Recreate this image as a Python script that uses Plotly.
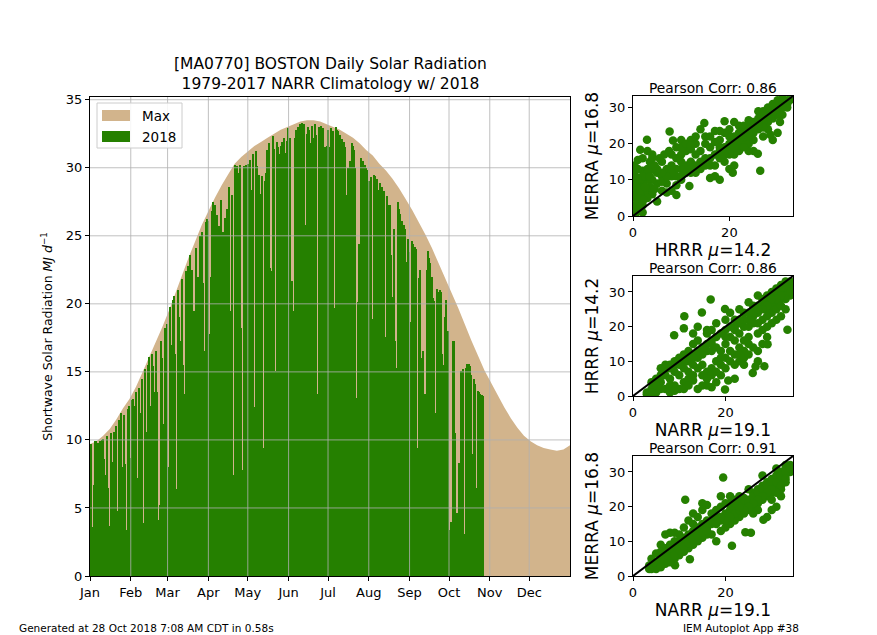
import plotly.graph_objects as go

# ---------------- data ----------------
MONTHS = ['Jan', 'Feb', 'Mar', 'Apr', 'May', 'Jun', 'Jul', 'Aug', 'Sep', 'Oct', 'Nov', 'Dec']
MONTH_START_DAYS = [1, 32, 60, 91, 121, 152, 182, 213, 244, 274, 305, 335]
Y_TICKS = [0, 5, 10, 15, 20, 25, 30, 35]
LEGEND_LABELS = ['Max', '2018']

# 1979-2017 NARR climatology max (every 5 days of year)
MAX_DAYS = list(range(1, 367, 5))
MAX_CLIM = [9.7, 9.9, 10.3, 10.8, 11.5, 12.3, 13.0, 13.9, 15.0, 16.1,
            17.2, 18.3, 19.5, 20.8, 22.1, 23.4, 24.6, 25.8, 26.8, 27.8,
            28.7, 29.5, 30.3, 30.8, 31.2, 31.6, 31.9, 32.2, 32.5, 32.8,
            33.0, 33.2, 33.4, 33.5, 33.5, 33.4, 33.2, 33.0, 32.8, 32.5,
            32.2, 31.8, 31.3, 30.9, 30.3, 29.8, 29.2, 28.5, 27.7, 26.9,
            26.0, 25.1, 24.1, 23.0, 21.9, 20.8, 19.7, 18.5, 17.3, 16.2,
            15.1, 14.2, 13.3, 12.4, 11.6, 10.9, 10.3, 9.9, 9.6, 9.4,
            9.3, 9.2, 9.3, 9.6]

# 2018 daily values (MJ/d), by month
JAN = [9.6, 9.7, 3.6, 6.7, 9.9, 9.9, 9.8, 7.2, 9.9, 10.0,
       10.1, 8.6, 7.4, 10.3, 6.5, 3.7, 10.5, 8.4, 10.6, 8.8,
       11.0, 4.8, 11.5, 11.3, 12.0, 8.0, 11.8, 8.2, 3.4, 12.3, 12.5]
FEB = [8.7, 12.9, 13.0, 12.5, 13.5, 7.2, 13.8, 12.0, 10.6, 14.5,
       3.9, 15.2, 10.6, 15.5, 16.1, 12.5, 16.3, 15.4, 13.5, 16.5,
       13.5, 4.1, 5.2, 17.3, 16.0, 11.2, 18.2, 17.5]
MAR = [18.5, 8.0, 19.8, 17.0, 20.3, 20.6, 16.3, 6.4, 21.0, 19.0,
       17.3, 21.8, 15.5, 13.4, 22.4, 20.5, 22.8, 23.6, 12.0, 22.5,
       19.5, 10.0, 24.1, 22.0, 14.1, 25.0, 25.3, 21.5, 16.5, 26.0, 26.2]
APR = [26.1, 17.8, 22.0, 26.8, 27.5, 27.3, 15.6, 26.5, 25.7, 7.2,
       27.6, 25.3, 11.5, 26.3, 27.0, 8.9, 28.6, 19.5, 28.0, 7.4,
       30.2, 29.3, 30.1, 29.6, 30.2, 18.2, 7.8, 30.1, 18.0, 30.2]
MAY = [30.3, 29.2, 30.6, 28.4, 31.0, 12.4, 31.2, 30.1, 29.2, 29.5,
       28.1, 29.4, 9.4, 29.0, 29.6, 31.3, 31.8, 22.6, 22.4, 32.3,
       31.4, 15.1, 31.9, 31.5, 31.0, 31.6, 31.9, 11.2, 32.2, 31.1, 32.0]
JUN = [32.9, 32.2, 7.8, 21.7, 19.5, 32.2, 32.8, 33.0, 32.7, 33.2,
       33.3, 32.9, 33.2, 25.8, 32.5, 33.0, 32.8, 31.8, 33.1, 32.2,
       33.2, 32.4, 13.4, 33.0, 17.3, 33.1, 32.9, 14.6, 31.5, 31.6]
JUL = [32.8, 31.5, 32.9, 31.0, 32.7, 19.7,
       33.0, 32.8, 32.7, 32.4, 17.3, 32.1, 31.9, 31.5, 28.0, 30.0,
       20.7, 30.5, 31.8, 31.6, 31.3, 30.0, 13.1, 20.1, 24.4, 30.7,
       30.4, 30.5, 30.2, 30.0, 29.8]
AUG = [29.0, 22.2, 29.3, 18.9, 29.5, 29.4, 29.2, 28.4, 20.2, 28.9,
       28.6, 17.8, 28.3, 17.6, 27.9, 27.3, 27.3, 23.6, 20.5, 25.5,
       17.3, 15.3, 27.5, 27.0, 26.6, 26.1, 25.8, 25.8, 25.5, 23.1, 24.8]
SEP = [23.8, 18.7, 24.6, 24.4, 24.2, 24.0, 9.4, 21.9, 22.5, 16.0,
       16.5, 8.5, 13.4, 22.5, 23.9, 23.4, 23.0, 22.0, 20.4, 20.2,
       12.0, 21.1, 20.9, 21.0, 20.9, 16.3, 15.5, 19.0, 20.3, 18.0]
OCT = [3.0, 3.4, 4.0, 17.3, 17.3, 10.5, 4.6, 4.4, 8.3, 15.1,
       15.1, 15.2, 3.1, 15.3, 15.6, 15.6, 15.4, 14.8, 9.0, 14.5,
       14.1, 6.5, 13.6, 13.5, 13.4, 13.3, 13.2]
OBS_2018 = JAN + FEB + MAR + APR + MAY + JUN + JUL + AUG + SEP + OCT
OBS_DAYS = list(range(1, len(OBS_2018) + 1))

# scatter comparisons (x, y)
HRRR_MERRA = [(28, 29), (30, 31), (31, 32), (29, 30), (27, 28), (26, 29), (24, 25), (25, 26), (22, 25), (19, 26.2),
              (21, 26), (23, 24), (27, 22), (29, 21), (30, 23), (25.9, 17.2), (26.4, 12.5), (25, 18), (24, 18), (21, 17),
              (22, 20), (20, 22), (18, 21), (17, 23.5), (14.8, 25.7), (14, 24), (15, 20), (12, 21), (10, 21), (8.3, 20.9),
              (7.6, 23.4), (2.9, 21.1), (1.5, 18.3), (4, 17), (4, 16), (3.5, 15), (5, 12), (2, 12.5), (1, 13), (0.5, 11),
              (0.3, 9), (1, 7), (0.5, 5), (0.3, 3), (0.5, 2), (1, 4), (2, 6), (3, 7), (4, 6), (3, 5),
              (2, 3), (1, 1.5), (5, 4), (6, 7), (7, 9), (8, 11), (8, 7), (9, 5.8), (10, 10), (11, 14),
              (12, 15), (11.7, 8.3), (13, 12), (14, 15), (15, 16), (16, 10.5), (17, 11), (17, 14), (18, 10), (19, 15),
              (19, 19), (18, 18), (20, 13), (21, 14), (20.7, 12), (22, 18), (23, 21), (24, 20), (25, 23), (26, 24),
              (28, 24), (29, 27), (30, 28), (31, 30), (32, 31), (32.5, 32), (28, 26), (27, 26), (25, 21), (23, 19),
              (20, 18), (18, 16), (16, 16), (14, 13), (12, 12), (10, 13), (9, 11), (8, 14), (7, 13), (6, 11),
              (6, 15), (8, 17), (10, 17), (11, 18), (13, 17), (15, 22), (9, 19), (5, 9), (4, 10), (3, 10),
              (2, 9), (2, 1), (0.5, 0.5), (1.5, 2.5), (0.2, 6), (0.8, 8), (1.5, 10), (2.5, 11), (3, 13), (0.4, 12.5),
              (1.2, 5.5), (2.2, 4.5), (3.5, 8), (4.5, 7.5), (6, 9.5), (7, 6.5), (9, 8.5), (10, 15), (12, 18.5), (13, 20),
              (16, 19), (17, 20.5), (19, 23), (21, 21), (23, 22.5), (24, 22), (26, 26), (27, 24.5), (28, 27.5), (29, 28.5),
              (30, 29.5), (31, 28), (32, 30), (30.5, 26), (28.5, 22.5), (24, 26.5), (22, 22.5),
              (20, 20), (21, 22), (22, 23), (23, 25), (24, 24), (25, 25), (26, 27), (27, 27), (28, 28), (29, 29),
              (30, 30), (31, 31), (32, 32), (26, 25), (27, 29), (28, 30), (29, 31), (30, 32), (31, 32.5), (25, 24),
              (24, 23), (23, 23), (22, 21), (21, 19), (20, 17), (19, 17), (18, 19), (17, 17), (16, 14), (15, 14),
              (14, 18), (13, 14), (12, 13), (11, 12), (10, 11), (9, 13), (8, 12), (7, 11), (6, 12), (5, 13),
              (4, 13), (3, 12), (2, 11), (1, 10), (0.5, 8), (1.5, 7), (2.5, 8), (3.5, 11), (4.5, 14), (5.5, 16),
              (6.5, 17), (7.5, 18), (9, 16), (10, 19), (11, 20), (12, 19.5), (13, 22), (16, 22), (18, 23.5), (20, 24),
              (0.3, 14), (1, 15.5), (2, 16), (3, 18)]
NARR_HRRR = [(28.4, 8.6), (25.9, 6.6), (26.5, 8.5), (27, 13), (26, 14), (28, 15), (29.1, 14.9), (33.4, 19.1), (25, 17), (23, 10),
             (22, 12), (20, 11), (19.9, 1.9), (20.6, 4.5), (17, 2.5), (14, 2), (13, 4.5), (10, 2), (8, 1), (7, 2),
             (5, 1), (3, 0.5), (4, 2), (6, 4), (7, 6), (8, 8), (9, 9), (10, 6), (11, 8), (12, 10),
             (13, 12), (14, 11), (15, 9), (16, 13), (17, 8), (18, 10), (19, 13), (20, 15), (17, 15), (16, 18),
             (14.9, 24.1), (16.8, 27.8), (11.1, 23), (8.9, 17.5), (11, 19.5), (13, 18), (14, 20), (16, 19), (18, 21), (19.9, 25.1),
             (21, 24), (22, 22), (23, 25), (25, 27), (27, 29), (28, 26), (29, 28), (30, 30), (31, 31), (32, 30),
             (33, 31), (34, 31), (30, 24), (31, 22), (32, 23), (33, 25), (28, 19), (27, 18), (29, 20), (24, 20),
             (23, 18), (26, 21), (28, 22), (30, 27), (32, 28), (34, 29), (33, 28), (25, 15), (24, 13), (22, 16),
             (21, 10), (19, 6), (18, 4), (16, 3), (15, 6), (12, 7), (11, 4), (9, 3), (8, 5), (6, 8),
             (5, 5), (4, 4), (3, 1), (10, 11), (12, 13), (13, 15), (14, 16), (17, 13), (19, 11), (20, 19),
             (22, 19), (24, 24), (26, 25), (27, 24), (29, 25), (31, 27), (33, 30), (34, 32), (32, 32), (31, 29),
             (28, 27), (26, 23), (23, 21), (7, 9), (9, 7), (11, 12), (12, 5), (13, 9), (15, 12), (16, 7),
             (18, 14), (21, 17), (23, 14), (24, 16), (25, 20), (27, 21), (29, 23), (30, 26), (31, 25), (32, 26),
             (33, 29), (34, 30), (24, 9), (22, 5), (17, 19), (20, 22), (29, 17), (30, 21),
             (25, 22), (26, 24), (27, 26), (28, 28), (29, 29), (30, 29), (31, 30), (32, 31), (33, 32), (34, 33),
             (33, 33), (32, 29), (31, 28), (30, 28), (29, 26), (28, 25), (27, 25), (26, 26), (25, 24), (24, 22),
             (23, 22), (22, 20), (21, 20), (20, 17), (19, 18), (18, 17), (17, 16), (16, 15), (15, 14), (14, 13),
             (13, 11), (12, 11), (11, 10), (10, 9), (9, 10), (8, 9), (7, 8), (6, 6), (5, 3), (4, 1),
             (6, 2), (8, 3), (9, 1.5), (11, 2), (12, 3), (13, 6), (14, 8), (15, 3), (16, 5), (17, 6),
             (18, 7), (19, 9), (20, 8), (21, 13), (23, 12), (24, 11), (25, 12), (27, 10), (22, 9)]
NARR_MERRA = [(19.5, 28.4), (11.3, 22), (15, 21), (16, 20.5), (19, 23), (21, 23), (22, 20), (24.3, 12.6), (25.5, 12.5), (28.2, 16.2),
              (29, 17), (31, 20), (32, 23), (30, 19), (21.4, 8.7), (12.3, 4.8), (9.1, 3.1), (8, 12.5), (7, 12), (6, 9),
              (5, 6.5), (4, 5), (3.5, 3), (4, 2), (5, 3), (6, 4), (7, 5), (8, 7), (9, 8), (10, 9),
              (11, 10), (12, 12), (13, 13), (11, 14), (12, 16), (13, 18), (14, 17), (15, 15), (16, 14), (17, 16),
              (18, 17), (17, 12), (18, 10), (19, 13), (20, 18), (21, 19), (22, 22), (23, 21), (24, 20), (25, 22),
              (26, 24), (27, 25), (28, 26), (29, 27), (30, 28), (31, 29), (32, 30), (33, 31), (34, 32), (33, 29),
              (32, 27), (31, 26), (30, 24), (29, 23), (28, 22), (27, 21), (26, 20), (25, 19), (24, 18), (23, 17),
              (22, 16), (21, 15), (20, 14), (19, 16), (18, 15), (16, 12), (15, 11), (14, 10), (13, 9), (12, 8),
              (11, 7), (10, 6), (9, 5), (8, 4), (7, 3.5), (6, 3), (5, 2), (34, 30), (33, 27), (32, 25),
              (30, 22), (29, 25), (27, 23), (25, 25), (23, 23), (21, 21), (19, 20), (17, 18), (15, 19), (14, 14),
              (12, 11), (10, 10), (9, 10), (8, 9), (7, 8), (6, 7), (28, 29), (31, 31), (34, 31.5), (33, 32),
              (26, 22), (28, 24), (30, 26), (32, 28), (33.5, 30.5), (24, 22.5), (22, 19), (20, 21), (18, 19), (16, 16),
              (14, 12), (10, 12), (9, 12.5), (11, 11), (13, 15), (27, 19), (26, 18),
              (20, 17), (21, 18), (22, 18), (23, 19), (24, 21), (25, 21), (26, 23), (27, 24), (28, 25), (29, 26),
              (30, 27), (31, 27), (32, 29), (33, 30), (34, 31), (33, 28), (32, 26), (31, 24), (30, 25), (29, 24),
              (28, 23), (27, 22), (26, 21), (25, 20), (24, 19), (23, 20), (22, 21), (21, 17), (20, 16), (19, 17),
              (18, 16), (17, 15), (16, 15), (15, 13), (14, 13), (13, 11), (12, 10), (11, 9), (10, 8), (9, 7),
              (8, 6), (7, 6), (6, 5), (5, 4), (4, 3), (4.5, 4), (3.5, 2), (6, 2.5), (7, 7), (8, 8),
              (9, 6), (10, 7.5), (11, 8.5), (12, 9.5), (13, 10.5), (14, 11.5), (15, 12.5), (16, 13)]

PANELS = [
    {'pts': HRRR_MERRA, 'xlab': 'HRRR <i>μ</i>=14.2', 'ylab': 'MERRA <i>μ</i>=16.8', 'corr': 'Pearson Corr: 0.86', 'lim': 33.2},
    {'pts': NARR_HRRR, 'xlab': 'NARR <i>μ</i>=19.1', 'ylab': 'HRRR <i>μ</i>=14.2', 'corr': 'Pearson Corr: 0.86', 'lim': 34.6},
    {'pts': NARR_MERRA, 'xlab': 'NARR <i>μ</i>=19.1', 'ylab': 'MERRA <i>μ</i>=16.8', 'corr': 'Pearson Corr: 0.91', 'lim': 34.6},
]

# ---------------- styling ----------------
W, H = 877, 635
FONT = 'DejaVu Sans'
GREEN = '#258000'
TAN = '#D2B48C'
GRID = '#b0b0b0'

def px_x(x):
    return x / W

def px_y(y):
    return (H - y) / H

MAIN_X = [px_x(90), px_x(570)]
MAIN_Y = [px_y(576), px_y(97)]
SC_X = [px_x(633), px_x(793)]
SC_Y = [[px_y(216), px_y(96)], [px_y(396), px_y(276)], [px_y(576), px_y(456)]]
YMAX = 35.2

fig = go.Figure()

fig.add_trace(go.Scatter(x=MAX_DAYS, y=MAX_CLIM, mode='none', fill='tozeroy', fillcolor=TAN,
                         name=LEGEND_LABELS[0], xaxis='x', yaxis='y', hoverinfo='skip'))
fig.add_trace(go.Bar(x=OBS_DAYS, y=OBS_2018, width=1.0, marker=dict(color=GREEN, line=dict(width=0)),
                     name=LEGEND_LABELS[1], xaxis='x5', yaxis='y5'))

for i, p in enumerate(PANELS):
    xs = [a for a, b in p['pts']]
    ys = [b for a, b in p['pts']]
    ax = str(i + 2)
    fig.add_trace(go.Scatter(x=xs, y=ys, mode='markers', marker=dict(color=GREEN, size=8.5, line=dict(width=0)),
                             xaxis='x' + ax, yaxis='y' + ax))
    fig.add_trace(go.Scatter(x=[0, p['lim']], y=[0, p['lim']], mode='lines', line=dict(color='black', width=2),
                             xaxis='x' + ax, yaxis='y' + ax))

axis_common = dict(showline=True, mirror=True, linecolor='black', linewidth=1, ticks='outside', ticklen=4,
                   tickcolor='black', showgrid=False, zeroline=False, automargin=False,
                   tickfont=dict(family=FONT, size=13, color='black'))

layout = dict(
    width=W, height=H, margin=dict(l=0, r=0, t=0, b=0, autoexpand=False), paper_bgcolor='white',
    plot_bgcolor='white', font=dict(family=FONT, color='black'), bargap=0, showlegend=False,
    xaxis=dict(domain=MAIN_X, range=[1, 366], tickmode='array', tickvals=MONTH_START_DAYS, ticktext=MONTHS,
               anchor='y', **axis_common),
    yaxis=dict(domain=MAIN_Y, range=[0, YMAX], tickmode='array', tickvals=Y_TICKS, anchor='x',
               title=dict(text='Shortwave Solar Radiation <i>MJ d</i><sup>−1</sup>',
                          font=dict(family=FONT, size=12.5), standoff=10),
               **axis_common),
    xaxis5=dict(overlaying='x', range=[1, 366], visible=False, anchor='y5', automargin=False),
    yaxis5=dict(overlaying='y', range=[0, YMAX], visible=False, anchor='x5', automargin=False),
)

annotations = [
    dict(text='[MA0770] BOSTON Daily Solar Radiation<br>1979-2017 NARR Climatology w/ 2018',
         x=(MAIN_X[0] + MAIN_X[1]) / 2, y=px_y(95), xref='paper', yref='paper', xanchor='center', yanchor='bottom',
         showarrow=False, font=dict(family=FONT, size=15.5)),
    dict(text='Generated at 28 Oct 2018 7:08 AM CDT in 0.58s', x=px_x(17), y=px_y(628), xref='paper', yref='paper',
         xanchor='left', yanchor='middle', showarrow=False, font=dict(family=FONT, size=10.5)),
    dict(text='IEM Autoplot App #38', x=px_x(801), y=px_y(628), xref='paper', yref='paper',
         xanchor='right', yanchor='middle', showarrow=False, font=dict(family=FONT, size=10.5)),
]

for i, p in enumerate(PANELS):
    ax = str(i + 2)
    layout['xaxis' + ax] = dict(domain=SC_X, range=[0, p['lim']], tickmode='array', tickvals=[0, 20],
                                anchor='y' + ax,
                                title=dict(text=p['xlab'], font=dict(family=FONT, size=17), standoff=3),
                                **axis_common)
    layout['yaxis' + ax] = dict(domain=SC_Y[i], range=[0, p['lim']], tickmode='array', tickvals=[0, 10, 20, 30],
                                anchor='x' + ax,
                                title=dict(text=p['ylab'], font=dict(family=FONT, size=17), standoff=5),
                                **axis_common)
    annotations.append(dict(text=p['corr'], x=(SC_X[0] + SC_X[1]) / 2, y=SC_Y[i][1], xref='paper', yref='paper',
                            xanchor='center', yanchor='bottom', showarrow=False, yshift=-2,
                            font=dict(family=FONT, size=13.8)))

shapes = []
for d in MONTH_START_DAYS[1:]:
    shapes.append(dict(type='line', xref='x', yref='y domain', x0=d, x1=d, y0=0, y1=1, layer='above',
                       line=dict(color=GRID, width=0.8)))
for v in Y_TICKS[1:]:
    shapes.append(dict(type='line', xref='x domain', yref='y', x0=0, x1=1, y0=v, y1=v, layer='above',
                       line=dict(color=GRID, width=0.8)))

# legend box (matplotlib style) drawn on top of the grid
shapes.append(dict(type='rect', xref='paper', yref='paper', x0=px_x(97), x1=px_x(182), y0=px_y(148), y1=px_y(103),
                   layer='above', fillcolor='rgba(255,255,255,0.85)', line=dict(color='#cccccc', width=1)))
for j, (col, ytop) in enumerate([(TAN, 110), (GREEN, 131)]):
    shapes.append(dict(type='rect', xref='paper', yref='paper', x0=px_x(102), x1=px_x(130),
                       y0=px_y(ytop + 11), y1=px_y(ytop), layer='above', fillcolor=col, line=dict(width=0)))
    annotations.append(dict(text=LEGEND_LABELS[j], x=px_x(140), y=px_y(ytop + 5.5), xref='paper', yref='paper',
                            xanchor='left', yanchor='middle', showarrow=False,
                            font=dict(family=FONT, size=13.5)))

layout['annotations'] = annotations
layout['shapes'] = shapes

fig.update_layout(**layout)
fig.write_html('out.html', config={'displayModeBar': False},
               post_script="document.body.style.margin='0';document.body.style.padding='0';")
